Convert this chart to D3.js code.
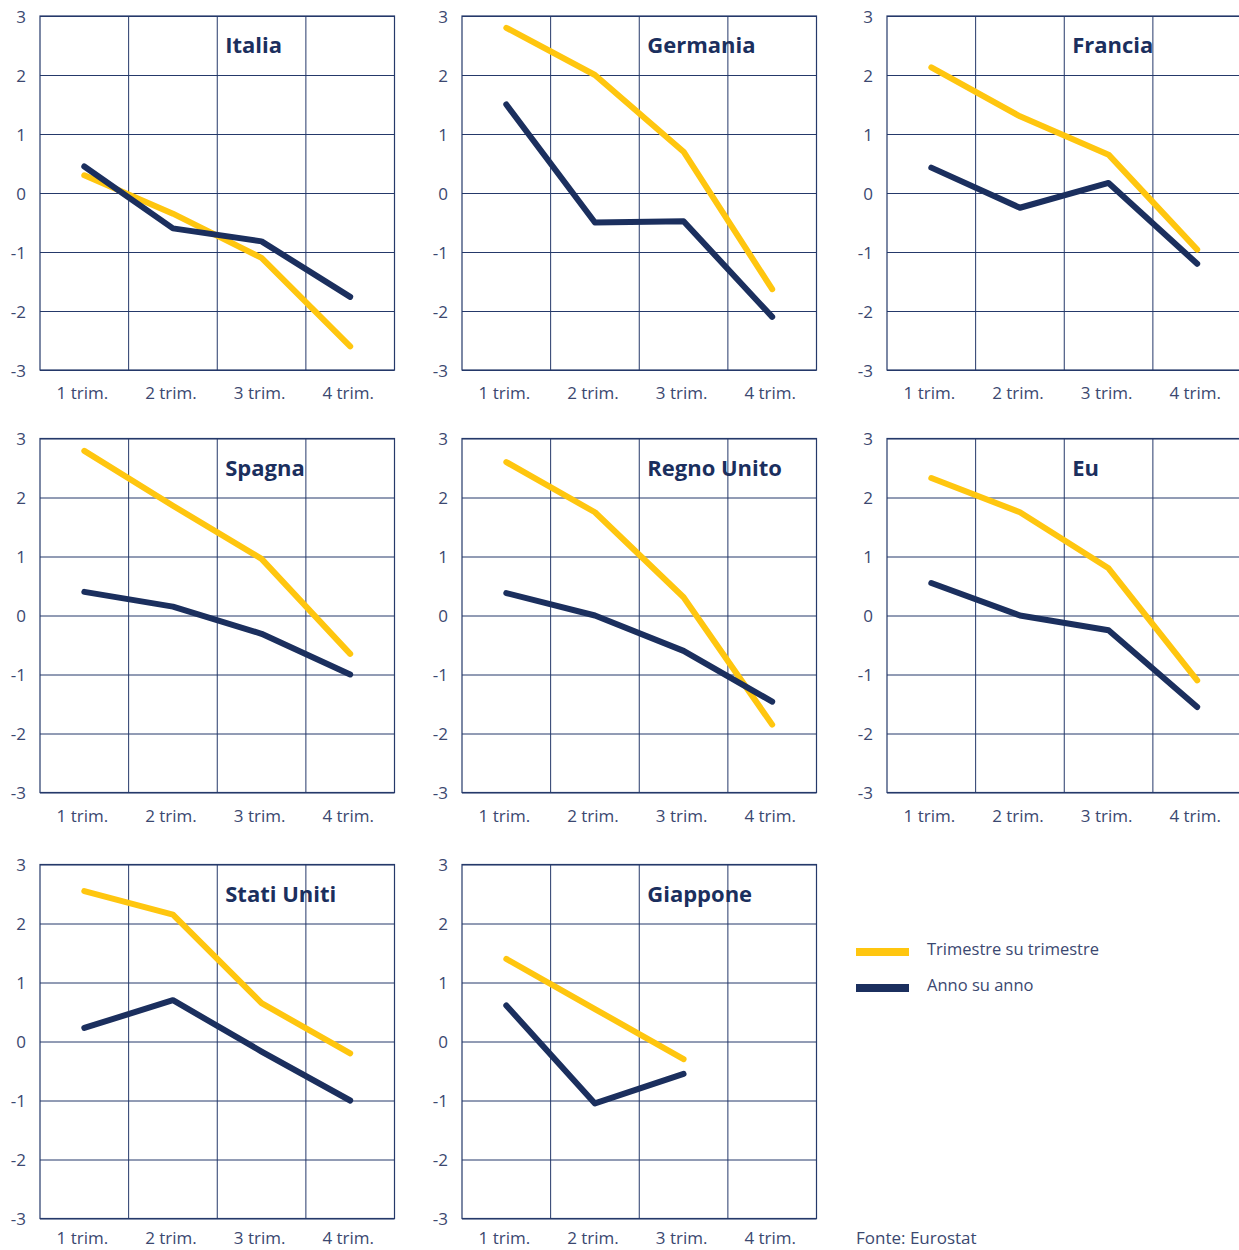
<!DOCTYPE html>
<html>
<head>
<meta charset="utf-8">
<script src="https://cdn.jsdelivr.net/npm/d3@7"></script>
<style>
  html, body { margin: 0; padding: 0; background: #fff; }
  svg { display: block; }
  text { font-family: "Open Sans", "Noto Sans", sans-serif; }
</style>
</head>
<body>
<svg id="chart" width="1239" height="1250"></svg>
<script>
// Quarters on the x axis and the y-axis ticks (percentage change)
const quarters = ["1 trim.", "2 trim.", "3 trim.", "4 trim."];
const yTicks = [-3, -2, -1, 0, 1, 2, 3];

// Countries, in reading order of the small multiples
const countries = ["Italia", "Germania", "Francia", "Spagna", "Regno Unito", "Eu", "Stati Uniti", "Giappone"];

// Quarter-on-quarter change (Trimestre su trimestre)
const qoq = [
  [0.3, -0.35, -1.1, -2.6],
  [2.8, 2.0, 0.7, -1.63],
  [2.13, 1.3, 0.65, -0.96],
  [2.79, 1.86, 0.96, -0.65],
  [2.6, 1.75, 0.31, -1.85],
  [2.33, 1.75, 0.8, -1.1],
  [2.55, 2.15, 0.65, -0.2],
  [1.4, 0.55, -0.3, null]
];

// Year-on-year change (Anno su anno)
const yoy = [
  [0.45, -0.6, -0.82, -1.76],
  [1.5, -0.5, -0.48, -2.1],
  [0.43, -0.25, 0.17, -1.2],
  [0.4, 0.15, -0.31, -1.0],
  [0.38, 0.0, -0.6, -1.46],
  [0.55, 0.0, -0.25, -1.55],
  [0.23, 0.7, -0.17, -1.0],
  [0.61, -1.05, -0.55, null]
];

const seriesNames = ["Trimestre su trimestre", "Anno su anno"];
const source = "Fonte: Eurostat";

// Layout of the 3 x 3 grid of panels
const colX = [40, 462, 887];
const rowY = [16, 438.5, 864.5];
const labelPad = [17, 17, 13];   // the last row sits close to the page bottom
const pw = 354.5, ph = 354;

const YELLOW = "#ffc60f";
const NAVY = "#1b2f5e";
const GRID = "#25396a";
const LABEL = "#3b4870";

const svg = d3.select("#chart");

const x = d3.scaleBand().domain(quarters).range([0, pw]).padding(0);
const y = d3.scaleLinear().domain([-3, 3]).range([ph, 0]);

const line = d3.line()
  .defined(d => d != null)
  .x((d, i) => x(quarters[i]) + x.bandwidth() / 2)
  .y(d => y(d));

countries.forEach((name, k) => {
  const row = Math.floor(k / 3);
  const g = svg.append("g")
    .attr("transform", `translate(${colX[k % 3]},${rowY[row]})`);

  // horizontal grid + y labels
  const yAxis = g.append("g")
    .call(d3.axisLeft(y).tickValues(yTicks).tickSize(-pw).tickPadding(14).tickFormat(d3.format("d")));
  yAxis.select(".domain").remove();
  yAxis.selectAll(".tick line").attr("stroke", GRID).attr("stroke-width", 1);
  yAxis.selectAll(".tick text")
    .attr("fill", LABEL).attr("font-size", 17).attr("dy", "0.36em")
    .text(d => d < 0 ? "-" + Math.abs(d) : d);

  // vertical grid at quarter boundaries
  g.append("g").selectAll("line")
    .data(quarters.slice(1))
    .join("line")
    .attr("x1", d => x(d)).attr("x2", d => x(d))
    .attr("y1", 0).attr("y2", ph)
    .attr("stroke", GRID).attr("stroke-width", 1);

  // frame
  g.append("rect")
    .attr("width", pw).attr("height", ph)
    .attr("fill", "none").attr("stroke", GRID).attr("stroke-width", 1.2);

  // quarter labels
  const xAxis = g.append("g")
    .attr("transform", `translate(-2,${ph})`)
    .call(d3.axisBottom(x).tickSize(0).tickPadding(labelPad[row]));
  xAxis.select(".domain").remove();
  xAxis.selectAll(".tick text").attr("fill", LABEL).attr("font-size", 17);

  // title
  g.append("text")
    .attr("x", x(quarters[2]) + 8)
    .attr("y", 37)
    .attr("fill", NAVY)
    .attr("font-size", 22)
    .attr("font-weight", 700)
    .text(name);

  // series lines
  [[qoq[k], YELLOW], [yoy[k], NAVY]].forEach(([vals, col]) => {
    g.append("path")
      .datum(vals)
      .attr("d", line)
      .attr("fill", "none")
      .attr("stroke", col)
      .attr("stroke-width", 6)
      .attr("stroke-linecap", "round")
      .attr("stroke-linejoin", "round");
  });
});

// legend
const legend = svg.append("g").attr("transform", "translate(856,948)");
const legendColors = [YELLOW, NAVY];
seriesNames.forEach((s, i) => {
  const row = legend.append("g").attr("transform", `translate(0,${i * 36})`);
  row.append("rect").attr("width", 53).attr("height", 8).attr("fill", legendColors[i]);
  row.append("text")
    .attr("x", 71).attr("y", 7)
    .attr("fill", LABEL).attr("font-size", 16.5)
    .text(s);
});

svg.append("text")
  .attr("x", 856).attr("y", 1244)
  .attr("fill", LABEL).attr("font-size", 17)
  .text(source);
</script>
</body>
</html>
